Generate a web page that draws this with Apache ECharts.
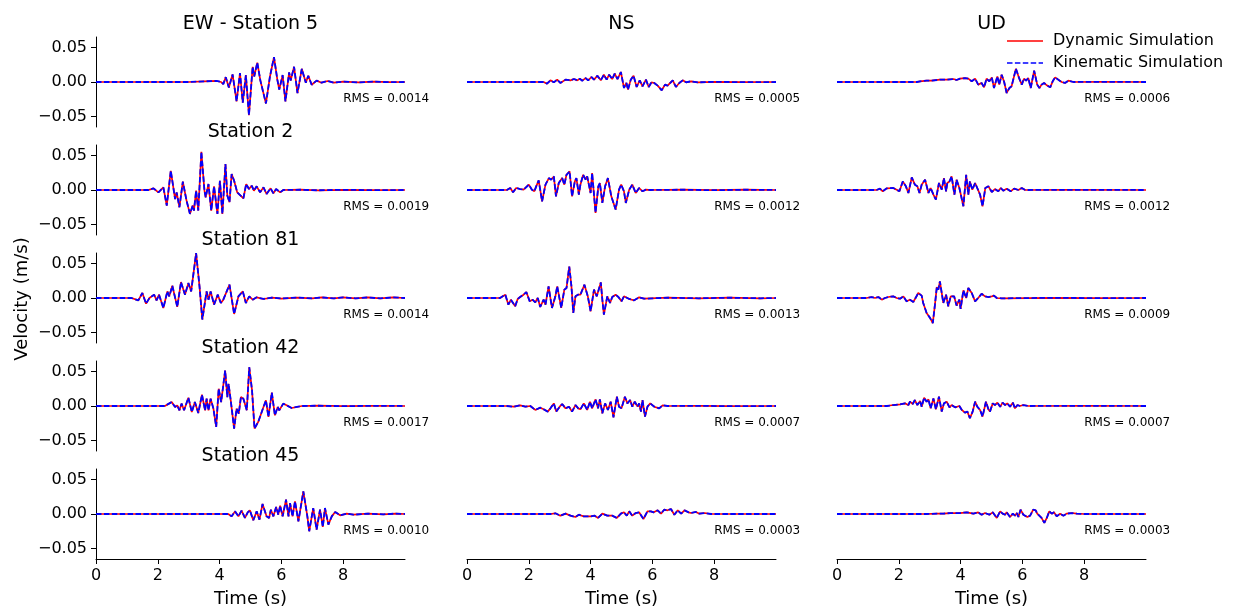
<!DOCTYPE html>
<html><head><meta charset="utf-8">
<script src="https://cdn.jsdelivr.net/npm/echarts@6/dist/echarts.min.js"></script>
<style>html,body{margin:0;padding:0;background:#fff}#c{width:1236px;height:612px}</style>
</head><body><div id="c"></div>
<script>
// Velocity traces, [time (s), velocity (mm/s)]
const ewSt5 = [[0,0],[3.0,0],[3.5,1],[3.9,1.5],[4.05,0],[4.12,-3],[4.2,7],[4.3,-8],[4.42,11],[4.55,-28],[4.66,13],[4.75,-30],[4.85,10],[4.95,-48],[5.07,22],[5.12,8],[5.22,28],[5.32,2],[5.5,-31],[5.63,8],[5.76,36],[5.87,3],[5.93,-11],[6.04,10],[6.13,-28],[6.25,14],[6.3,2],[6.41,22],[6.52,-16],[6.66,19],[6.79,-1],[6.87,9],[6.98,-4],[7.14,2],[7.3,-1],[7.5,1.5],[7.7,-1],[8.0,0.5],[8.5,-0.5],[9,0.5],[9.5,-0.3],[10,0]];
const nsSt5 = [[0,0],[2.48,0],[2.59,-2.4],[2.7,2.4],[2.81,-0.5],[2.92,3.4],[3.02,-1.4],[3.19,3.4],[3.35,2.4],[3.46,4.3],[3.57,2.4],[3.65,4.8],[3.73,1.9],[3.84,5.7],[3.92,2.4],[4.03,7.2],[4.11,3.4],[4.22,9.1],[4.33,2.4],[4.43,10.5],[4.52,3.4],[4.6,10.5],[4.7,4.3],[4.78,12],[4.87,4.3],[4.98,14.4],[5.08,-8.6],[5.16,-1.4],[5.21,-11],[5.3,3.4],[5.39,9.1],[5.49,-7.2],[5.59,2.4],[5.68,-6.2],[5.79,3.4],[5.88,-7.2],[5.97,-0.5],[6.06,-1.4],[6.17,-5.3],[6.3,-12],[6.41,-3.8],[6.49,-5.3],[6.66,2.4],[6.76,-7.2],[6.87,-1.4],[6.98,2.4],[7.09,-0.5],[7.25,1],[7.47,-0.5],[8,0.3],[9,-0.3],[10,0]];
const udSt5 = [[0,0],[2.58,0],[2.69,1],[2.9,1.9],[3.06,1.9],[3.33,3.4],[3.55,3.4],[3.77,4.3],[3.87,2.9],[3.98,4.8],[4.14,5.7],[4.25,4.8],[4.36,1],[4.47,4.8],[4.57,-3.8],[4.68,-1.4],[4.76,-7.7],[4.84,4.8],[4.93,1],[5.01,6.7],[5.08,-8.6],[5.19,8.1],[5.25,-3.8],[5.33,10.5],[5.41,0],[5.49,-15.8],[5.58,-8.6],[5.65,-6.2],[5.73,8.1],[5.79,19.2],[5.9,4.8],[5.98,-3.8],[6.05,4.8],[6.12,1.9],[6.19,5.7],[6.27,-8.6],[6.38,16.3],[6.48,-3.8],[6.55,-8.6],[6.62,-3.8],[6.7,-1.4],[6.79,-4.8],[6.9,-7.7],[6.98,1],[7.06,6.7],[7.16,3.4],[7.27,0],[7.38,-1.4],[7.49,1.9],[7.65,0],[8.5,0.3],[10,0]];
const ewSt2 = [[0,0],[1.7,0],[1.86,2.4],[2.02,-3.4],[2.18,3.8],[2.29,-22.5],[2.42,27.8],[2.56,-13],[2.61,-3.4],[2.7,-24.9],[2.81,12],[2.93,-15.3],[3.04,-34.5],[3.13,-22.5],[3.17,-29.7],[3.24,-1],[3.31,-29.7],[3.41,55.1],[3.51,-1],[3.55,-10.5],[3.64,8.6],[3.73,-29.7],[3.82,5.3],[3.93,-34.5],[4.01,13.4],[4.09,-34.5],[4.19,37.4],[4.25,-8.1],[4.32,-17.7],[4.39,23],[4.47,13.4],[4.57,-3.4],[4.68,-8.1],[4.77,-12],[4.86,8.6],[4.95,1.4],[5.04,6.2],[5.11,-1],[5.2,5.3],[5.31,-3.4],[5.42,3.8],[5.52,-5.7],[5.65,2.4],[5.74,-4.8],[5.83,1.4],[5.96,-3.4],[6.06,0],[6.6,0.4],[7.2,-0.4],[8,0.3],[9,-0.3],[10,0]];
const nsSt2 = [[0,0],[1.29,0],[1.4,2.9],[1.49,-3.4],[1.59,2.9],[1.72,1.4],[1.83,0.5],[2.0,7.7],[2.1,0.5],[2.18,-1.9],[2.24,5.3],[2.32,13.9],[2.43,-16.3],[2.54,7.7],[2.65,17.2],[2.72,14.9],[2.81,19.6],[2.88,-9.1],[2.97,10.1],[3.08,17.2],[3.15,7.7],[3.22,22],[3.32,26.8],[3.4,-9.1],[3.49,12.4],[3.54,17.2],[3.62,-6.7],[3.67,7.7],[3.76,22],[3.84,14.9],[3.89,19.6],[4.0,-4.3],[4.05,24.4],[4.16,-33],[4.25,5.3],[4.3,10.1],[4.38,-18.7],[4.47,5.3],[4.56,17.2],[4.67,-9.1],[4.81,-28.3],[4.92,0.5],[4.99,7.7],[5.08,-1.9],[5.14,-18.7],[5.25,0.5],[5.35,7.7],[5.46,-4.3],[5.57,2.9],[5.68,-1.9],[5.79,0.5],[5.84,-1.9],[5.95,0],[7,0.4],[8,-0.3],[9,0.4],[10,0]];
const udSt2 = [[0,0],[1.28,0],[1.39,1.9],[1.48,-1.9],[1.61,2.4],[1.82,2.9],[1.93,0.5],[2.02,-1.9],[2.13,12.4],[2.23,5.3],[2.31,-4.3],[2.42,18.2],[2.52,7.7],[2.6,5.3],[2.67,-4.3],[2.74,7.7],[2.85,14.9],[2.96,-4.3],[3.03,2.9],[3.12,-6.7],[3.2,-13.9],[3.3,10.1],[3.39,0.5],[3.46,17.2],[3.53,-1.9],[3.57,10.1],[3.64,12.4],[3.71,19.6],[3.8,-6.7],[3.87,14.9],[3.96,2.9],[4.01,5.3],[4.09,-23.5],[4.18,22],[4.25,-6.7],[4.3,12.4],[4.38,0.5],[4.47,10.1],[4.63,-6.7],[4.71,-23.5],[4.8,2.9],[4.9,5.3],[5.01,-2.9],[5.11,1.4],[5.22,-1.9],[5.3,2.9],[5.38,-1],[5.49,1.9],[5.62,-1.9],[5.73,1.9],[5.87,0],[5.98,2.9],[6.09,0],[7.5,0.3],[10,0]];
const ewSt81 = [[0,0],[1.15,0],[1.37,-3.4],[1.5,7.2],[1.62,-8.1],[1.73,0],[1.78,-2.4],[1.88,4.8],[1.96,-3.4],[2.04,4.8],[2.18,-14.4],[2.31,9.6],[2.37,2.4],[2.47,17.7],[2.63,-12.9],[2.75,23],[2.88,4.8],[2.99,21.5],[3.08,9.6],[3.24,64.7],[3.35,16.8],[3.44,-31.1],[3.58,9.6],[3.64,-2.4],[3.71,9.6],[3.82,-9.6],[3.94,4.8],[4.04,-7.2],[4.12,-2.4],[4.32,19.2],[4.47,-23],[4.61,2.4],[4.75,9.6],[4.85,-7.2],[4.96,2.4],[5.07,-2.4],[5.2,1],[5.42,-1.4],[5.69,0.5],[6.0,-0.8],[6.5,0.6],[7.0,-0.5],[7.3,0.8],[7.7,-0.6],[8.0,0.8],[8.4,-0.5],[8.8,0.8],[9.2,-0.6],[9.6,0.8],[10,0]];
const nsSt81 = [[0,0],[1.07,0],[1.24,4.8],[1.34,-9.6],[1.42,-2.4],[1.47,-1.4],[1.56,-12],[1.64,-1.4],[1.72,1.4],[1.83,4.8],[1.92,8.6],[2.03,-4.8],[2.12,-2.4],[2.21,-6.2],[2.29,0],[2.37,-12.9],[2.48,-2.4],[2.54,-9.6],[2.64,16.8],[2.75,-14.4],[2.86,2.4],[2.92,16.8],[3.05,-14.4],[3.15,12],[3.22,14.4],[3.31,45.5],[3.38,16.8],[3.44,-21.6],[3.51,2.4],[3.59,4.8],[3.67,4.8],[3.8,19.2],[3.91,2.4],[4.0,-19.2],[4.11,12],[4.2,2.4],[4.33,22.5],[4.38,-2.4],[4.43,-24],[4.54,2.4],[4.63,-7.2],[4.7,1.4],[4.81,4.8],[4.9,1.4],[5.0,-4.8],[5.08,2.4],[5.25,-1.4],[5.41,-3.4],[5.57,1],[5.73,-1],[6.5,0.4],[7.5,-0.4],[8.5,0.4],[9.5,-0.4],[10,0]];
const udSt81 = [[0,0],[0.96,0],[1.12,1.4],[1.23,0],[1.34,1.4],[1.45,-2.4],[1.55,0],[1.66,1.4],[1.82,2.4],[1.93,0],[2.04,-1],[2.15,2.4],[2.25,-4.8],[2.36,-2.4],[2.47,-5.7],[2.56,1.4],[2.63,7.2],[2.74,3.4],[2.79,-7.2],[2.9,-21.6],[3.01,-28.7],[3.1,-36.4],[3.17,-9.6],[3.23,15.8],[3.28,12],[3.33,24],[3.39,7.2],[3.44,-7.2],[3.53,4.8],[3.6,-12],[3.68,2.4],[3.79,2.4],[3.87,-11],[3.96,-2.4],[4.0,-15.8],[4.09,11],[4.18,0],[4.25,14.4],[4.36,7.2],[4.47,-4.8],[4.57,0],[4.68,6.2],[4.79,2.4],[4.9,1.4],[5.01,2.4],[5.08,3.4],[5.17,0],[5.33,-0.5],[7,0.3],[8.5,-0.3],[10,0]];
const ewSt42 = [[0,0],[2.23,0],[2.45,5.7],[2.56,-1.4],[2.63,1],[2.7,-6.2],[2.77,3.4],[2.85,-6.2],[2.99,12],[3.1,-8.6],[3.2,5.7],[3.31,-10.1],[3.43,16.3],[3.53,-6.2],[3.58,10.5],[3.64,-6.2],[3.71,10.5],[3.8,-3.8],[3.89,-30.2],[3.97,25],[4.05,5.7],[4.18,51.3],[4.25,12.9],[4.29,32.1],[4.36,8.1],[4.47,-32.6],[4.55,-3.8],[4.62,-11],[4.69,12.9],[4.77,10.5],[4.83,12.9],[4.88,-6.2],[4.96,56],[5.05,22.5],[5.13,-32.6],[5.25,-23],[5.42,-1.4],[5.5,8.1],[5.58,-15.8],[5.69,19.2],[5.79,-13.4],[5.88,-1.4],[5.93,-6.2],[6.06,3.4],[6.17,1],[6.33,-2.9],[6.5,-1.4],[6.66,0],[7.2,0.4],[8,-0.3],[9,0.3],[10,0]];
const nsSt42 = [[0,0],[1.29,0],[1.51,-1],[1.72,1],[1.89,-1],[2.05,0],[2.21,-5.7],[2.37,-2.4],[2.48,-4.8],[2.61,-8.1],[2.7,-3.4],[2.81,3.8],[2.89,-8.1],[3.0,-1],[3.08,2.9],[3.19,-3.4],[3.3,-1],[3.4,-8.1],[3.51,1.4],[3.6,-3.4],[3.67,-4.8],[3.78,3.8],[3.89,-5.7],[3.98,6.2],[4.05,-3.4],[4.16,9.6],[4.24,-3.4],[4.3,9.6],[4.38,-10.5],[4.47,3.8],[4.52,1.4],[4.56,-5.7],[4.65,6.2],[4.74,-16.3],[4.85,13.4],[4.92,-1],[5.0,-3.4],[5.11,13.4],[5.19,3.8],[5.28,8.6],[5.35,-1],[5.43,6.2],[5.52,-1],[5.57,3.8],[5.63,-8.1],[5.68,8.6],[5.76,-15.3],[5.84,-1],[5.93,3.8],[6.06,-1],[6.22,-3.4],[6.33,1],[6.49,0],[7.5,0.3],[8.5,-0.3],[10,0]];
const udSt42 = [[0,0],[1.61,0],[1.82,1.4],[2.04,2.4],[2.2,3.8],[2.31,1.4],[2.36,6.2],[2.45,2.9],[2.52,8.6],[2.6,1.4],[2.69,7.2],[2.74,-1],[2.82,12],[2.9,6.2],[2.96,9.6],[3.03,-3.4],[3.12,11],[3.2,-4.8],[3.3,13.4],[3.39,-8.1],[3.46,3.8],[3.55,6.2],[3.64,-1.9],[3.71,1.4],[3.82,-1.9],[3.96,0],[4.04,-5.7],[4.14,-9.6],[4.22,-8.1],[4.3,-17.7],[4.39,-8.1],[4.47,6.2],[4.54,-1],[4.63,-5.7],[4.71,-15.3],[4.82,6.2],[4.9,-4.8],[4.95,-8.1],[5.04,3.8],[5.11,1.4],[5.19,4.8],[5.28,-1],[5.36,4.8],[5.44,1.4],[5.51,3.8],[5.6,-1],[5.69,4.8],[5.76,-3.4],[5.84,1.4],[5.92,0],[6.03,1.4],[6.19,0],[8,0.3],[10,0]];
const ewSt45 = [[0,0],[4.28,0],[4.39,-3.4],[4.5,3.8],[4.61,-3.4],[4.71,4.8],[4.82,-5.7],[4.91,2.4],[4.98,5.3],[5.09,-9.1],[5.2,3.8],[5.29,-8.1],[5.39,14.4],[5.52,-3.4],[5.6,-5.7],[5.66,6.2],[5.74,-3.4],[5.83,10.1],[5.9,-1],[5.96,12],[6.04,-3.4],[6.15,20.6],[6.23,-3.4],[6.28,15.8],[6.36,-3.4],[6.44,18.2],[6.55,-10.5],[6.71,32.6],[6.84,-3.4],[6.9,-24.9],[7.03,8.6],[7.14,-22.5],[7.25,6.2],[7.34,-18.7],[7.41,8.6],[7.52,-15.3],[7.63,-3.4],[7.74,2.9],[7.9,-1.9],[8.11,0.5],[8.33,-1],[8.8,0.5],[9.3,-0.5],[9.7,0.6],[10,0]];
const nsSt45 = [[0,0],[2.7,0],[2.86,1],[3.02,-2.4],[3.19,0.5],[3.35,-2.4],[3.51,-4.3],[3.62,-1],[3.78,-3.4],[4.0,-3.4],[4.13,-2.4],[4.24,-5.7],[4.38,0.5],[4.54,-2.4],[4.7,-2.4],[4.85,-5.7],[4.98,0.5],[5.08,2.4],[5.17,-2.4],[5.25,3.8],[5.35,-2.4],[5.46,1.4],[5.57,2.4],[5.71,-7.2],[5.84,3.8],[5.95,3.8],[6.04,2.4],[6.17,5.3],[6.28,0.5],[6.38,6.2],[6.49,5.3],[6.6,7.2],[6.71,-1],[6.82,5.3],[6.93,0.5],[7.04,5.3],[7.17,2.4],[7.25,1.4],[7.41,2.9],[7.52,0.5],[7.69,1.4],[7.9,0],[10,0]];
const udSt45 = [[0,0],[2.9,0],[3.23,0.5],[3.44,0.5],[3.66,1.4],[3.98,1.4],[4.2,2.4],[4.41,0.5],[4.57,2.4],[4.68,-1],[4.79,1.4],[4.84,3.8],[4.93,-1],[5.04,2.4],[5.17,-5.7],[5.28,3.8],[5.36,0.5],[5.44,-1],[5.49,2.4],[5.6,-4.3],[5.69,0.5],[5.76,-2.4],[5.82,1.4],[5.87,-4.3],[5.94,6.2],[6.03,-1],[6.09,0.5],[6.16,-4.3],[6.25,-2.4],[6.35,6.2],[6.43,5.3],[6.48,0.5],[6.54,2.4],[6.62,-5.7],[6.71,-12.9],[6.79,-5.7],[6.87,3.8],[6.95,0.5],[7.02,2.4],[7.11,-3.4],[7.22,0.5],[7.33,-2.4],[7.43,0.5],[7.6,1.4],[7.76,0.5],[8,0],[10,0]];

const components = ['EW', 'NS', 'UD'];
const stations = ['Station 5', 'Station 2', 'Station 81', 'Station 42', 'Station 45'];
const rmsValues = [
  ['0.0014', '0.0005', '0.0006'],
  ['0.0019', '0.0012', '0.0012'],
  ['0.0014', '0.0013', '0.0009'],
  ['0.0017', '0.0007', '0.0007'],
  ['0.0010', '0.0003', '0.0003']
];
const xTicks = [0, 2, 4, 6, 8];
const yTicks = [-0.05, 0, 0.05];
const seriesNames = ['Dynamic Simulation', 'Kinematic Simulation'];
const MM_TO_M = 0.001;

const traces = [
  [ewSt5, nsSt5, udSt5],
  [ewSt2, nsSt2, udSt2],
  [ewSt81, nsSt81, udSt81],
  [ewSt42, nsSt42, udSt42],
  [ewSt45, nsSt45, udSt45]
];

// layout
const FONT = 'DejaVu Sans';
const RED = '#ff0000', BLUE = '#0000ff', DASH = [5.5, 2.4];
const colLeft = [96, 467, 837];
const gridW = 309, gridH = 90, rowTop0 = 37, rowStep = 108;

const grids = [], xAxes = [], yAxes = [], series = [], graphics = [];
const fmtY = v => (v < 0 ? '\u2212' : '') + Math.abs(v).toFixed(2);

traces.forEach((row, r) => {
  row.forEach((trace, c) => {
    const idx = grids.length;
    const top = rowTop0 + r * rowStep;
    const bottom = r === traces.length - 1;
    grids.push({ left: colLeft[c], top: top, width: gridW, height: gridH, containLabel: false });
    xAxes.push({
      type: 'value', gridIndex: idx, min: 0, max: 10,
      show: bottom,
      axisLine: { show: bottom, onZero: false, lineStyle: { color: '#000', width: 1 } },
      axisTick: { show: bottom, length: 5, customValues: xTicks, lineStyle: { color: '#000' } },
      axisLabel: { show: bottom, customValues: xTicks, fontSize: 16, color: '#000', fontFamily: FONT, margin: 9 },
      splitLine: { show: false },
      name: bottom ? 'Time (s)' : '', nameLocation: 'middle', nameGap: 31,
      nameTextStyle: { fontSize: 18, color: '#000', fontFamily: FONT }
    });
    const left = c === 0;
    yAxes.push({
      type: 'value', gridIndex: idx, min: -0.065, max: 0.065,
      show: left,
      axisLine: { show: left, onZero: false, lineStyle: { color: '#000', width: 1 } },
      axisTick: { show: left, length: 5, customValues: yTicks, lineStyle: { color: '#000' } },
      axisLabel: { show: left, customValues: yTicks, formatter: fmtY, fontSize: 16, color: '#000', fontFamily: FONT, margin: 9 },
      splitLine: { show: false }
    });
    const pts = trace.map(p => [p[0], p[1] * MM_TO_M]);
    series.push({
      name: seriesNames[0], type: 'line', xAxisIndex: idx, yAxisIndex: idx, data: pts,
      symbol: 'none', animation: false, silent: true,
      lineStyle: { color: RED, width: 1.7 }, itemStyle: { color: RED }, z: 2
    });
    series.push({
      name: seriesNames[1], type: 'line', xAxisIndex: idx, yAxisIndex: idx, data: pts,
      symbol: 'none', animation: false, silent: true,
      lineStyle: { color: BLUE, width: 1.8, type: DASH }, itemStyle: { color: BLUE }, z: 3
    });
    // RMS annotation
    graphics.push({
      type: 'text', x: colLeft[c] + 0.8 * gridW, y: top + gridH * 0.69,
      style: { text: 'RMS = ' + rmsValues[r][c], fontSize: 12, fontFamily: FONT, fill: '#000', align: 'left', verticalAlign: 'middle' }
    });
    // panel titles
    let title = null;
    if (r === 0) title = c === 0 ? components[0] + ' - ' + stations[0] : components[c];
    else if (c === 0) title = stations[r];
    if (title) {
      graphics.push({
        type: 'text', x: colLeft[c] + gridW / 2, y: top - 13,
        style: { text: title, fontSize: 19, fontFamily: FONT, fill: '#000', align: 'center', verticalAlign: 'middle' }
      });
    }
  });
});

// y-axis label
graphics.push({
  type: 'text', x: 22, y: 299, rotation: Math.PI / 2,
  style: { text: 'Velocity (m/s)', fontSize: 18, fontFamily: FONT, fill: '#000', align: 'center', verticalAlign: 'middle' }
});

// legend (line samples without markers)
[[RED, null, 41], [BLUE, DASH, 63]].forEach((it, i) => {
  graphics.push({
    type: 'line', shape: { x1: 1007, y1: it[2], x2: 1043, y2: it[2] },
    style: { stroke: it[0], lineWidth: 1.6, lineDash: it[1] }
  });
  graphics.push({
    type: 'text', x: 1053, y: it[2],
    style: { text: seriesNames[i], fontSize: 16, fontFamily: FONT, fill: '#000', align: 'left', verticalAlign: 'middle' }
  });
});

const chart = echarts.init(document.getElementById('c'), null, { renderer: 'canvas' });
chart.setOption({
  backgroundColor: '#ffffff',
  animation: false,
  grid: grids, xAxis: xAxes, yAxis: yAxes, series: series,
  graphic: graphics
});
</script>
</body></html>
